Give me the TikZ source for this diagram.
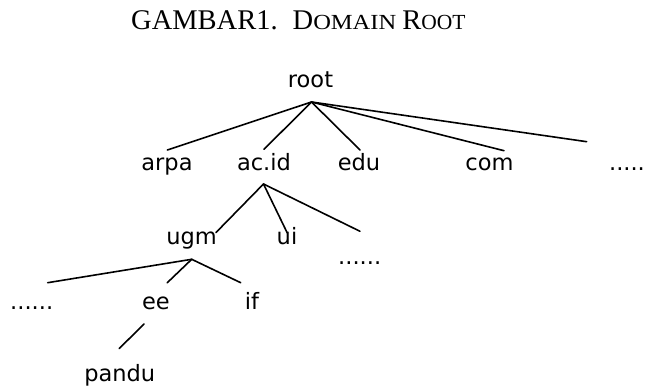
\documentclass[tikz,border=0pt]{standalone}
\usepackage{graphicx}
\usepackage{fontspec}
\setmainfont{Liberation Serif}
\newfontfamily\labelfont{DejaVu Sans}
\newcommand{\capfull}[1]{{\fontsize{28.5}{34}\selectfont #1}}
\newcommand{\capsmall}[1]{{\fontsize{21.5}{26}\selectfont #1}}
\begin{document}
\begin{tikzpicture}[x=1pt,y=-1pt,
  dnsname/.style={font=\labelfont\fontsize{22.5}{27}\selectfont, anchor=base, inner sep=0pt},
  link/.style={line width=1.6pt, line cap=round}]
\useasboundingbox (0,0) rectangle (646,387);

% caption
\node[anchor=base west, inner sep=0pt] (title) at (131,30)
  {\capfull{GAMBAR1.}\hspace{15pt}\capfull{D}\scalebox{1.14}[1]{\capsmall{OMAIN}}\hspace{6pt}\capfull{R}\capsmall{OOT}};

% domain names
\node[dnsname] (root)    at (310.5,88)  {root};
\node[dnsname] (arpa)    at (167,170.5) {arpa};
\node[dnsname] (acid)    at (264,170.5) {ac.id};
\node[dnsname] (edu)     at (359,170.5) {edu};
\node[dnsname] (com)     at (489.5,170.5) {com};
\node[dnsname] (moretop) at (627,170.5) {.....};
\node[dnsname] (ugm)     at (191.5,244.5) {ugm};
\node[dnsname] (ui)      at (287,244.5) {ui};
\node[dnsname] (moreac)  at (359.7,265) {......};
\node[dnsname] (moreugm) at (31.7,310)  {......};
\node[dnsname] (ee)      at (156,310)   {ee};
\node[dnsname] (if)      at (252,310)   {if};
\node[dnsname] (pandu)   at (119.7,381.7) {pandu};

% branch points and line ends
\coordinate (rootHub) at (311.5,102);
\coordinate (arpaTop) at (167.3,150);
\coordinate (acidTop) at (264,149.3);
\coordinate (eduTop)  at (360,150);
\coordinate (comTop)  at (504,150.7);
\coordinate (moreTopEnd) at (586.7,141.7);

\coordinate (acidHub) at (263.5,184);
\coordinate (ugmTop)  at (216,232.5);
\coordinate (uiTop)   at (287.3,233);
\coordinate (moreAcEnd) at (360,231.3);

\coordinate (ugmHub)  at (191.7,259.3);
\coordinate (moreUgmEnd) at (47.7,282.7);
\coordinate (eeTop)   at (167.3,282.7);
\coordinate (ifTop)   at (240.7,282.7);

\coordinate (eeFoot)  at (144,324);
\coordinate (panduTop) at (119.3,348.5);

% tree edges
\draw[link] (rootHub) -- (arpaTop);
\draw[link] (rootHub) -- (acidTop);
\draw[link] (rootHub) -- (eduTop);
\draw[link] (rootHub) -- (comTop);
\draw[link] (rootHub) -- (moreTopEnd);

\draw[link] (acidHub) -- (ugmTop);
\draw[link] (acidHub) -- (uiTop);
\draw[link] (acidHub) -- (moreAcEnd);

\draw[link] (ugmHub) -- (moreUgmEnd);
\draw[link] (ugmHub) -- (eeTop);
\draw[link] (ugmHub) -- (ifTop);

\draw[link] (eeFoot) -- (panduTop);
\end{tikzpicture}
\end{document}
